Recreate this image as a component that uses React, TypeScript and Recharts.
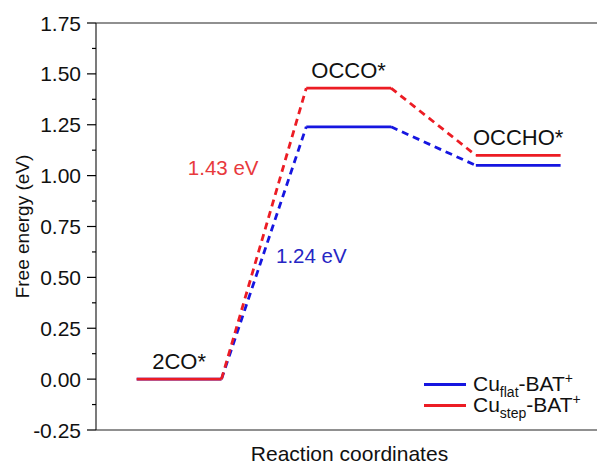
import { LineChart, Line, XAxis, YAxis, ReferenceLine, ReferenceDot } from 'recharts'

const states = ['2CO*', 'OCCO*', 'OCCHO*']
const flatEnergy = [0, 1.24, 1.05]
const stepEnergy = [0, 1.43, 1.1]
const yTicks = [-0.25, -0.125, 0, 0.125, 0.25, 0.375, 0.5, 0.625, 0.75, 0.875, 1, 1.125, 1.25, 1.375, 1.5, 1.625, 1.75]
const barriers = ['1.43 eV', '1.24 eV']

const RED = '#ec1c24'
const BLUE = '#1616e0'
const FONT = '"Liberation Sans", Arial, sans-serif'
const TICK_SIZE = 9
const TICK_MARGIN = 6

type Pt = { x: number; y: number | null }

// horizontal level for each state, broken with a null between them
function levels(values: number[]): Pt[] {
  const out: Pt[] = []
  values.forEach((v, i) => {
    out.push({ x: 2 * i, y: v }, { x: 2 * i + 1, y: v })
    if (i < values.length - 1) out.push({ x: 2 * i + 1.5, y: null })
  })
  return out
}

// dashed connectors between neighbouring levels
function connectors(values: number[]): Pt[] {
  const out: Pt[] = []
  for (let i = 0; i < values.length - 1; i++) {
    out.push({ x: 2 * i + 1, y: values[i] }, { x: 2 * i + 2, y: values[i + 1] }, { x: 2 * i + 2.5, y: null })
  }
  return out
}

function YTick(props: any) {
  const { x, y, payload } = props
  const axisX = x + TICK_SIZE + TICK_MARGIN
  const v = payload.value as number
  const major = Math.abs(Math.round(v * 4) - v * 4) < 1e-6
  if (!major) {
    return <line x1={axisX - 4} y1={y} x2={axisX} y2={y} stroke="#000" strokeWidth={1.2} />
  }
  return (
    <g>
      <line x1={axisX - TICK_SIZE} y1={y} x2={axisX} y2={y} stroke="#000" strokeWidth={1.2} />
      <text x={x} y={y} dy="0.36em" textAnchor="end" fontSize={21} fontFamily={FONT} fill="#111">
        {v.toFixed(2)}
      </text>
    </g>
  )
}

function YTitle(props: any) {
  const vb = props.viewBox || { x: 0, y: 23, width: 96, height: 407 }
  const cx = vb.x + 22
  const cy = vb.y + vb.height / 2
  return (
    <text x={cx} y={cy} dy="0.36em" textAnchor="middle" fontSize={19} fontFamily={FONT} fill="#111"
      transform={`rotate(-90, ${cx}, ${cy})`}>
      Free energy (eV)
    </text>
  )
}

function XTitle(props: any) {
  const vb = props.viewBox || { x: 96, y: 430, width: 507, height: 36 }
  return (
    <text x={vb.x + vb.width / 2} y={vb.y + 31} textAnchor="middle" fontSize={21} fontFamily={FONT} fill="#111">
      Reaction coordinates
    </text>
  )
}

function PointText(props: any) {
  const vb = props.viewBox || { x: 0, y: 0 }
  return (
    <text x={vb.x} y={vb.y + (props.dy || 0)} textAnchor="middle" fontSize={props.size || 22}
      fontFamily={FONT} fill={props.color || '#111'}>
      {props.text}
    </text>
  )
}

function LegendBox() {
  const rows = [
    { color: BLUE, sub: 'flat' },
    { color: RED, sub: 'step' },
  ]
  return (
    <div style={{ position: 'absolute', left: 424, top: 374, fontFamily: FONT, fontSize: 21, color: '#111' }}>
      {rows.map((r) => (
        <div key={r.sub} style={{ display: 'flex', alignItems: 'center', height: 21, lineHeight: '21px' }}>
          <span style={{ display: 'inline-block', width: 42, height: 3, background: r.color, marginRight: 7 }} />
          <span style={{ whiteSpace: 'nowrap' }}>
            Cu
            <span style={{ fontSize: 14, position: 'relative', top: 6 }}>{r.sub}</span>
            -BAT
            <span style={{ fontSize: 14, position: 'relative', top: -8 }}>+</span>
          </span>
        </div>
      ))}
    </div>
  )
}

export default function App() {
  const stateLabelY = states.map((_, i) => Math.max(flatEnergy[i], stepEnergy[i]))
  return (
    <div style={{ position: 'absolute', left: 0, top: 0, width: 597, height: 466, overflow: 'hidden', background: '#fff' }}>
      <LineChart width={610} height={466} margin={{ top: 23, right: 7, left: 0, bottom: 0 }}>
        <XAxis
          type="number"
          dataKey="x"
          domain={[-0.48, 5.5]}
          ticks={[]}
          tick={false}
          tickLine={false}
          axisLine={{ stroke: '#222', strokeWidth: 1.2 }}
          height={36}
          label={<XTitle />}
        />
        <YAxis
          type="number"
          domain={[-0.25, 1.75]}
          ticks={yTicks}
          interval={0}
          width={96}
          tickSize={TICK_SIZE}
          tickMargin={TICK_MARGIN}
          tickLine={false}
          tick={<YTick />}
          axisLine={{ stroke: '#222', strokeWidth: 1.2 }}
          label={<YTitle />}
        />
        <ReferenceLine y={1.75} stroke="#222" strokeWidth={1.2} />

        <Line data={levels(flatEnergy)} dataKey="y" stroke={BLUE} strokeWidth={2.8} dot={false} activeDot={false}
          isAnimationActive={false} legendType="none" />
        <Line data={connectors(flatEnergy)} dataKey="y" stroke={BLUE} strokeWidth={2.8} strokeDasharray="7 5"
          dot={false} activeDot={false} isAnimationActive={false} legendType="none" />
        <Line data={levels(stepEnergy)} dataKey="y" stroke={RED} strokeWidth={2.8} dot={false} activeDot={false}
          isAnimationActive={false} legendType="none" />
        <Line data={connectors(stepEnergy)} dataKey="y" stroke={RED} strokeWidth={2.8} strokeDasharray="7 5"
          dot={false} activeDot={false} isAnimationActive={false} legendType="none" />

        {states.map((s, i) => (
          <ReferenceDot key={s} x={2 * i + 0.5} y={stateLabelY[i]} r={0} stroke="none" fill="none"
            label={<PointText text={s} dy={-10} />} />
        ))}
        <ReferenceDot x={1.02} y={1.037} r={0} stroke="none" fill="none"
          label={<PointText text={barriers[0]} dy={7} size={20.5} color="#e8393c" />} />
        <ReferenceDot x={2.06} y={0.604} r={0} stroke="none" fill="none"
          label={<PointText text={barriers[1]} dy={7} size={20.5} color="#2626c4" />} />
      </LineChart>
      <LegendBox />
    </div>
  )
}
